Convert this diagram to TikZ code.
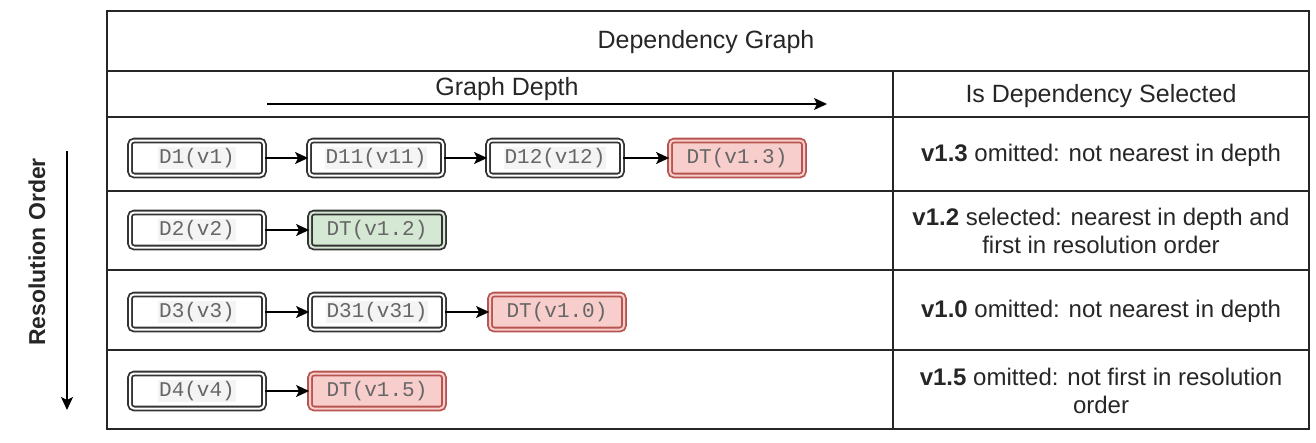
\documentclass[tikz,border=0pt]{standalone}
\usepackage{fontspec}
\setmainfont{Liberation Sans}
\setmonofont{Liberation Mono}
\usetikzlibrary{arrows.meta}
\definecolor{ink}{HTML}{262626}
\definecolor{codegray}{HTML}{666666}
\definecolor{codebg}{HTML}{F4F4F4}
\definecolor{redline}{HTML}{B85450}
\definecolor{redfill}{HTML}{F8CECC}
\definecolor{greenfill}{HTML}{D5E8D4}
\definecolor{boxline}{HTML}{333333}
\newcommand{\codetxt}[1]{{\setlength{\fboxsep}{1pt}\colorbox{codebg}{\ttfamily #1}}}
\tikzset{
  dep/.style={draw=boxline, double=white, line width=1.8pt, double distance=2pt,
    rounded corners=4pt, minimum width=134pt, minimum height=35pt, inner sep=0pt,
    font=\fontsize{21}{24}\selectfont\ttfamily, text=codegray, fill=white},
  depred/.style={dep, draw=redline, double=redfill, fill=redfill},
  depgreen/.style={dep, draw=boxline, double=greenfill, fill=greenfill},
  link/.style={draw=black, line width=1.5pt, -{Stealth[length=13pt,width=12pt,inset=3pt]}},
  grid/.style={draw=ink, line width=1.5pt},
  head/.style={font=\fontsize{25}{29}\selectfont, text=ink},
  body/.style={font=\fontsize{24}{28}\selectfont, text=ink, align=center}
}
\begin{document}
\begin{tikzpicture}[x=1pt,y=-1pt]
\useasboundingbox (0,0) rectangle (1316,442);
% table
\draw[grid] (107,11) rectangle (1309,429);
\draw[grid] (107,71) -- (1309,71);
\draw[grid] (107,117) -- (1309,117);
\draw[grid] (107,191) -- (1309,191);
\draw[grid] (107,270) -- (1309,270);
\draw[grid] (107,350) -- (1309,350);
\draw[grid] (893,71) -- (893,429);
% headers
\node[head] (title) at (706,42) {Dependency Graph};
\node[head] (gdepth) at (507,89) {Graph Depth};
\node[head] (issel) at (1101,96) {Is Dependency Selected};
\coordinate (gdA) at (267,104);
\coordinate (gdB) at (827,104);
\draw[link] (gdA) -- (gdB);
% resolution order
\node[font=\fontsize{23}{27}\selectfont\bfseries, text=ink, rotate=90] (resord) at (37,252) {Resolution Order};
\coordinate (roA) at (67,151);
\coordinate (roB) at (67,410);
\draw[link] (roA) -- (roB);
% row 1
\node[dep] (d1) at (197,158) {\codetxt{D1(v1)}};
\node[dep] (d11) at (376,158) {\codetxt{D11(v11)}};
\node[dep] (d12) at (555,158) {\codetxt{D12(v12)}};
\node[depred] (dt13) at (737,158) {DT(v1.3)};
\draw[link] (d1) -- (d11);
\draw[link] (d11) -- (d12);
\draw[link] (d12) -- (dt13);
% row 2
\node[dep] (d2) at (197,230) {\codetxt{D2(v2)}};
\node[depgreen] (dt12) at (377,230) {DT(v1.2)};
\draw[link] (d2) -- (dt12);
% row 3
\node[dep] (d3) at (197,312) {\codetxt{D3(v3)}};
\node[dep] (d31) at (377,312) {\codetxt{D31(v31)}};
\node[depred] (dt10) at (557,312) {DT(v1.0)};
\draw[link] (d3) -- (d31);
\draw[link] (d31) -- (dt10);
% row 4
\node[dep] (d4) at (197,391) {\codetxt{D4(v4)}};
\node[depred] (dt15) at (377,391) {DT(v1.5)};
\draw[link] (d4) -- (dt15);
% right column
\node[body] (r1) at (1101,155) {\textbf{v1.3} omitted: not nearest in depth};
\node[body] (r2) at (1101,231) {\textbf{v1.2} selected: nearest in depth and\\first in resolution order};
\node[body] (r3) at (1101,311) {\textbf{v1.0} omitted: not nearest in depth};
\node[body] (r4) at (1101,391) {\textbf{v1.5} omitted: not first in resolution\\order};
\end{tikzpicture}
\end{document}
